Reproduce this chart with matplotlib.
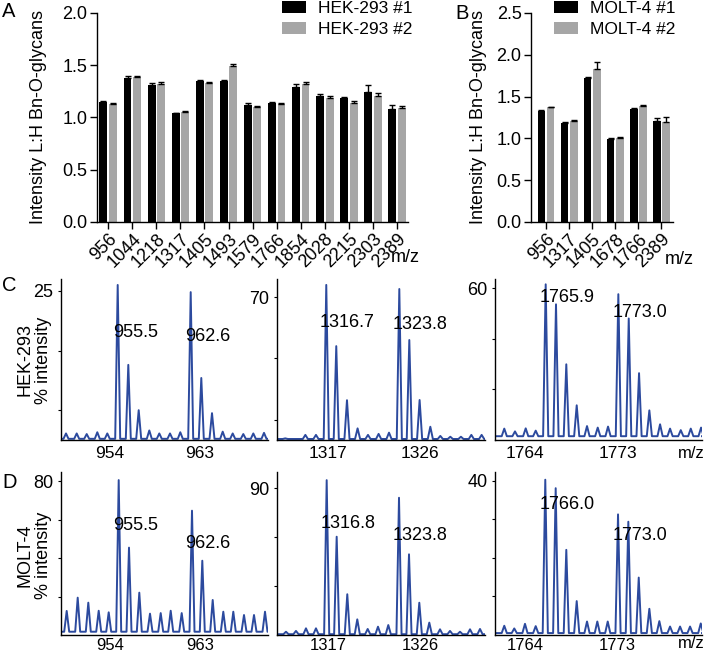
import matplotlib
matplotlib.use('Agg')
import matplotlib.pyplot as plt
import numpy as np

plt.rcParams['font.family'] = ['Liberation Sans', 'DejaVu Sans']
plt.rcParams['font.size'] = 13

# ---- panel A: HEK-293 L:H ratios ----
hek_labels = ['956', '1044', '1218', '1317', '1405', '1493', '1579',
              '1766', '1854', '2028', '2215', '2303', '2389']
hek1 = [1.15, 1.38, 1.31, 1.04, 1.35, 1.35, 1.12, 1.14, 1.29, 1.21, 1.19, 1.24, 1.08]
hek1_err = [0.01, 0.02, 0.02, 0.005, 0.01, 0.01, 0.02, 0.01, 0.03, 0.01, 0.01, 0.07, 0.04]
hek2 = [1.13, 1.39, 1.32, 1.05, 1.33, 1.49, 1.10, 1.13, 1.32, 1.19, 1.14, 1.21, 1.09]
hek2_err = [0.01, 0.01, 0.02, 0.01, 0.01, 0.02, 0.01, 0.01, 0.02, 0.02, 0.02, 0.02, 0.02]

# ---- panel B: MOLT-4 L:H ratios ----
molt_labels = ['956', '1317', '1405', '1678', '1766', '2389']
molt1 = [1.33, 1.18, 1.72, 0.99, 1.35, 1.21]
molt1_err = [0.01, 0.02, 0.01, 0.02, 0.01, 0.03]
molt2 = [1.37, 1.21, 1.83, 1.01, 1.39, 1.19]
molt2_err = [0.01, 0.01, 0.08, 0.005, 0.01, 0.07]

# ---- panels C/D: spectra, peak centres (m/z) and heights (% intensity) ----
hek_956_mz = [949.6, 950.67, 951.67, 952.73, 953.73, 954.77, 955.83, 956.87, 957.93, 958.93,
              960.0, 961.03, 962.07, 963.13, 964.2, 965.27, 966.27, 967.33, 968.33, 969.4]
hek_956_int = [1.1, 1.1, 1.0, 1.3, 1.1, 26.0, 12.6, 5.0, 1.6, 1.1,
               1.1, 1.3, 24.8, 10.4, 4.5, 1.4, 1.1, 1.0, 1.1, 1.2]
hek_1317_mz = [1312.78, 1313.76, 1314.75, 1315.79, 1316.8, 1317.78, 1318.83, 1319.87, 1320.89, 1321.93,
               1322.95, 1323.96, 1324.94, 1325.95, 1327.0, 1327.98, 1328.96, 1330.0, 1331.02, 1332.03]
hek_1317_int = [0.8, 0.5, 2.5, 2.5, 76, 46, 19.5, 5.7, 2.5, 3.0,
                3.6, 74, 49, 19.6, 6.5, 2.0, 1.6, 1.6, 2.5, 2.5]
hek_1766_mz = [1761.99, 1763.03, 1764.07, 1765.04, 1766.01, 1767.01, 1768.01, 1769.02, 1770.02, 1771.06,
               1772.06, 1773.06, 1774.07, 1775.07, 1776.07, 1777.11, 1778.08, 1779.12, 1780.09, 1781.09]
hek_1766_int = [4.5, 3.4, 4.6, 3.7, 61.5, 53.6, 29.9, 13.7, 5.5, 4.9,
                5.3, 57.6, 48, 26.4, 11.7, 6.2, 4.5, 3.9, 4.5, 4.9]

molt_956_mz = [949.67, 950.77, 951.83, 952.87, 953.87, 954.87, 955.9, 956.93, 958.0, 959.07,
               960.07, 961.17, 962.2, 963.23, 964.27, 965.33, 966.33, 967.4, 968.4, 969.5]
molt_956_int = [12.5, 19.4, 16.8, 12.6, 11.8, 80.5, 45.4, 22, 11.1, 11.4,
                12.6, 11.4, 64.6, 38.6, 18.2, 12.1, 12.1, 10.4, 10.4, 12.1]
molt_1317_mz = [1312.85, 1313.83, 1314.81, 1315.79, 1316.84, 1317.82, 1318.86, 1319.84, 1320.86, 1321.87,
                1322.88, 1323.93, 1324.91, 1325.92, 1326.9, 1327.95, 1328.93, 1329.91, 1330.89, 1331.87]
molt_1317_int = [2, 2.5, 4.1, 4.1, 95, 60.3, 25, 9.6, 3.7, 5.1,
                 6.1, 84.2, 49.5, 19.8, 7.6, 3.5, 2.5, 2, 3.5, 3.7]
molt_1766_mz = [1761.99, 1762.96, 1764.0, 1765.04, 1765.97, 1766.98, 1768.01, 1769.02, 1770.02, 1771.02,
                1772.03, 1773.03, 1774.03, 1775.04, 1776.07, 1777.04, 1778.08, 1779.05, 1780.02, 1781.06]
molt_1766_int = [2.4, 1.7, 2.9, 2.3, 40.3, 38.1, 22.1, 8.8, 3.5, 3.5,
                 3.5, 31.3, 29.4, 14.9, 6.8, 3.6, 2.2, 2.2, 2.2, 3.0]

black = '#000000'
grey = '#a6a6a6'
blue = '#2c4a9e'

fig = plt.figure(figsize=(7.04, 6.54), dpi=100)


def bar_panel(rect, labels, v1, e1, v2, e2, ymax, xlim, names, leg_x, lpad):
    ax = fig.add_axes(rect)
    x = np.arange(len(labels))
    w = 0.33
    ax.bar(x - 0.2, v1, w, color=black, label=names[0], zorder=2)
    ax.bar(x + 0.2, v2, w, color=grey, label=names[1], zorder=2)
    ax.errorbar(x - 0.2, v1, yerr=[np.zeros(len(v1)), e1], fmt='none',
                ecolor=black, elinewidth=1, capsize=2, capthick=1, zorder=3)
    ax.errorbar(x + 0.2, v2, yerr=[np.zeros(len(v2)), e2], fmt='none',
                ecolor=black, elinewidth=1, capsize=2, capthick=1, zorder=3)
    ax.set_xlim(*xlim)
    ax.set_ylim(0, ymax)
    ax.set_yticks(np.arange(0, ymax + 0.01, 0.5))
    ax.yaxis.set_major_formatter(matplotlib.ticker.FormatStrFormatter('%.1f'))
    ax.set_xticks(x)
    ax.set_xticklabels(labels, rotation=45, ha='right', va='top',
                       rotation_mode='anchor')
    for s in ['top', 'right']:
        ax.spines[s].set_visible(False)
    for s in ['left', 'bottom']:
        ax.spines[s].set_linewidth(1.0)
    ax.tick_params(direction='out', length=4.8, width=1.0, pad=2)
    ax.tick_params(axis='x', pad=1.5)
    ax.set_ylabel('Intensity L:H Bn-O-glycans', labelpad=lpad)
    ax.legend(loc='upper left', bbox_to_anchor=(leg_x, 1 - 1 / 654),
              bbox_transform=fig.transFigure, frameon=False, borderpad=0,
              borderaxespad=0, handlelength=1.4, handleheight=0.7,
              handletextpad=0.7, labelspacing=0.35, fontsize=12.5)
    return ax


axA = bar_panel([0.1374, 0.6606, 0.4418, 0.3196], hek_labels, hek1, hek1_err,
                hek2, hek2_err, 2.0, (-0.48, 12.45), ['HEK-293 #1', 'HEK-293 #2'],
                281.7 / 704, 11)
axB = bar_panel([0.7543, 0.6606, 0.2017, 0.3196], molt_labels, molt1, molt1_err,
                molt2, molt2_err, 2.5, (-0.65, 5.5), ['MOLT-4 #1', 'MOLT-4 #2'],
                554 / 704, 7)

fig.text(391 / 704, 1 - 257 / 654, 'm/z', va='center', ha='left')
fig.text(665 / 704, 1 - 260 / 654, 'm/z', va='center', ha='left')


def spectrum(rect, mz, inten, floor, xlim, ytop, yticks, xticks, labels, xpad, xfs):
    ax = fig.add_axes(rect)
    xs = [xlim[0]]
    ys = [floor]
    for m, h in zip(mz, inten):
        xs += [m - 0.25, m, m + 0.25]
        ys += [floor, h, floor]
    xs.append(xlim[1])
    ys.append(floor)
    ax.plot(xs, ys, color=blue, lw=1.4, clip_on=True)
    ax.set_xlim(*xlim)
    ax.set_ylim(0, ytop)
    ax.set_yticks(yticks)
    ax.set_yticklabels([''] * (len(yticks) - 1) + [str(yticks[-1])])
    ax.set_xticks(xticks)
    ax.set_xticklabels([str(t) for t in xticks], fontsize=xfs)
    for s in ['top', 'right']:
        ax.spines[s].set_visible(False)
    for s in ['left', 'bottom']:
        ax.spines[s].set_linewidth(1.0)
    ax.tick_params(axis='y', direction='out', length=2.5, width=0.8, pad=3)
    ax.tick_params(axis='x', length=0, pad=xpad)
    for txt, tx, ty in labels:
        ax.text(tx, ty, txt, ha='left', va='center')
    return ax


c_bot, c_h = 1 - 440 / 654, 161 / 654
d_bot, d_h = 1 - 635 / 654, 163 / 654
lim956 = (949.07, 969.8)
lim1317 = (1311.97, 1332.36)
lim1766 = (1761.09, 1781.18)

spectrum([60.7 / 704, c_bot, 207.3 / 704, c_h], hek_956_mz, hek_956_int, 0.2,
         lim956, 27.0, [5, 15, 25], [954, 963],
         [('955.5', 954.3, 18.1), ('962.6', 961.5, 17.3)], 4, 12.5)
spectrum([277 / 704, c_bot, 208 / 704, c_h], hek_1317_mz, hek_1317_int, 0.5,
         lim1317, 78.9, [10, 40, 70], [1317, 1326],
         [('1316.7', 1316.19, 57.4), ('1323.8', 1323.34, 56.4)], 4, 12.5)
spectrum([495 / 704, c_bot, 207 / 704, c_h], hek_1766_mz, hek_1766_int, 1.5,
         lim1766, 63.6, [20, 40, 60], [1764, 1773],
         [('1765.9', 1765.46, 56.4), ('1773.0', 1772.54, 50.5)], 4, 12.5)

spectrum([60.7 / 704, d_bot, 207.3 / 704, d_h], molt_956_mz, molt_956_int, 1.7,
         lim956, 84.7, [20, 40, 60, 80], [954, 963],
         [('955.5', 954.3, 57.1), ('962.6', 961.5, 47.3)], 2, 12)
spectrum([277 / 704, d_bot, 208 / 704, d_h], molt_1317_mz, molt_1317_int, 0.5,
         lim1317, 100, [30, 60, 90], [1317, 1326],
         [('1316.8', 1316.28, 68.7), ('1323.8', 1323.34, 61.3)], 2, 12)
spectrum([495 / 704, d_bot, 207 / 704, d_h], molt_1766_mz, molt_1766_int, 0.5,
         lim1766, 42.3, [10, 20, 30, 40], [1764, 1773],
         [('1766.0', 1765.46, 33.8), ('1773.0', 1772.54, 25.7)], 2, 12)

fig.text(678 / 704, 1 - 453 / 654, 'm/z', va='center', ha='left', fontsize=12)
fig.text(678 / 704, 1 - 644 / 654, 'm/z', va='center', ha='left', fontsize=12)

fig.text(34 / 704, 1 - 360 / 654, 'HEK-293\n% intensity', rotation=90,
         ha='center', va='center', multialignment='center', linespacing=1.1)
fig.text(34 / 704, 1 - 555 / 654, 'MOLT-4\n% intensity', rotation=90,
         ha='center', va='center', multialignment='center', linespacing=1.1)

for letter, lx, ly in [('A', 2, 2), ('B', 455, 4), ('C', 2, 276), ('D', 2, 473)]:
    fig.text(lx / 704, 1 - ly / 654, letter, fontsize=14.5, va='top', ha='left')

fig.savefig('out.png', dpi=100, facecolor='white')
